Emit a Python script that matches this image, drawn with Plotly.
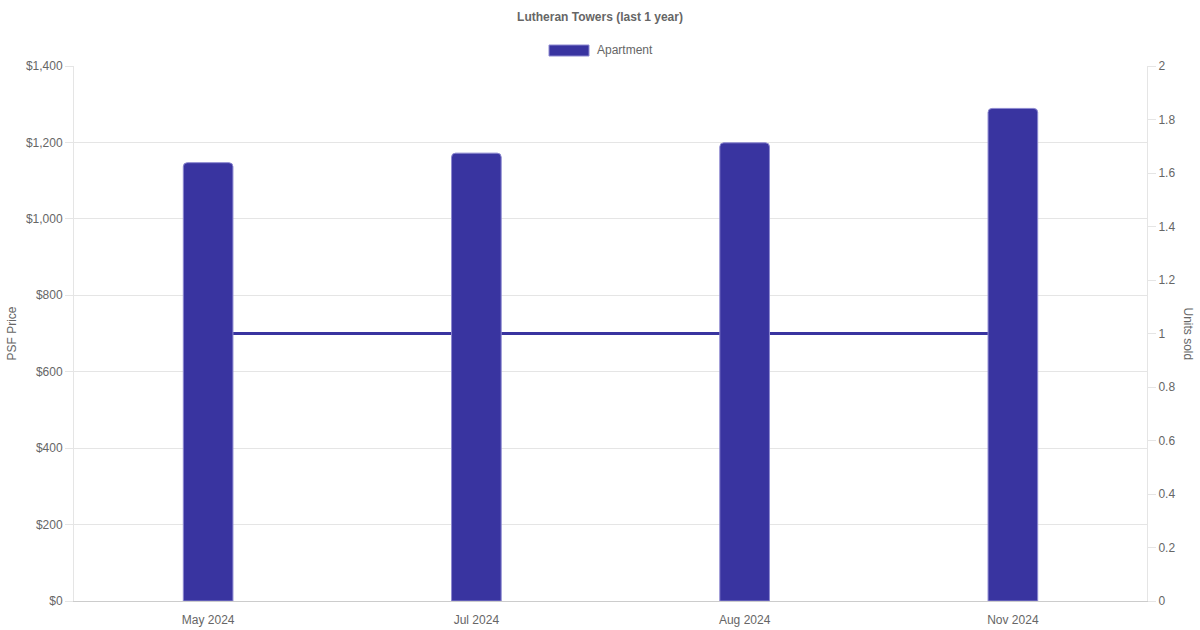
import plotly.graph_objects as go

# values
months = ["May 2024", "Jul 2024", "Aug 2024", "Nov 2024"]
psf_price = [1147, 1172, 1199, 1289]
units_sold = [1, 1, 1, 1]

bar_color = "#3934a0"
grey = "#666666"
grid = "#e5e5e5"
font_family = "Liberation Sans, Arial, sans-serif"

fig = go.Figure()

# line first on primary axis (right) so bars on y2 draw over it
fig.add_trace(go.Scatter(x=months, y=units_sold, mode="lines", name="Units sold",
                         line=dict(color=bar_color, width=3), yaxis="y", showlegend=False))

fig.add_trace(go.Bar(x=months, y=psf_price, name="Apartment", yaxis="y2",
                     marker=dict(color=bar_color, line=dict(color="#8c88d0", width=1)),
                     width=0.185, showlegend=False))

fig.update_layout(
    width=1200, height=630,
    paper_bgcolor="white", plot_bgcolor="white",
    margin=dict(l=74, r=53, t=66, b=29),
    font=dict(family=font_family, size=12, color=grey),
    title=dict(text="<b>Lutheran Towers (last 1 year)</b>", x=0.5, xanchor="center",
               y=1 - 17 / 630, yanchor="middle", font=dict(size=12, color=grey)),
    barcornerradius=4,
    xaxis=dict(showgrid=False, showline=True, linecolor="#cccccc", ticks="outside",
               ticklen=8, tickcolor="rgba(0,0,0,0)", automargin=False,
               tickfont=dict(size=12, color=grey)),
    yaxis=dict(side="right", range=[0, 2], dtick=0.2, showgrid=False, zeroline=False,
               showline=True, linecolor=grid, ticks="outside", ticklen=8, tickcolor=grid,
               automargin=False, tickfont=dict(size=12, color=grey)),
    yaxis2=dict(side="left", overlaying="y", range=[0, 1400], dtick=200,
                tickprefix="$", tickformat=",d", showgrid=True, gridcolor=grid,
                zeroline=False, showline=True, linecolor=grid, ticks="outside",
                ticklen=8, tickcolor=grid, automargin=False,
                tickfont=dict(size=12, color=grey)),
    # legend drawn by hand: wide swatch like the original
    shapes=[dict(type="rect", xref="paper", yref="paper",
                 x0=(549 - 74) / 1073, x1=(589 - 74) / 1073,
                 y0=(601 - 56) / 535, y1=(601 - 45) / 535,
                 fillcolor=bar_color, line=dict(color="#8c88d0", width=1))],
    annotations=[
        dict(text="Apartment", xref="paper", yref="paper", x=(595 - 74) / 1073,
             y=(601 - 50) / 535, xanchor="left", yanchor="middle", showarrow=False,
             font=dict(size=12, color=grey)),
        dict(text="PSF Price", xref="paper", yref="paper", x=(11 - 74) / 1073, y=0.5,
             textangle=-90, showarrow=False, font=dict(size=12, color=grey),
             xanchor="center", yanchor="middle"),
        dict(text="Units sold", xref="paper", yref="paper", x=(1188 - 74) / 1073, y=0.5,
             textangle=90, showarrow=False, font=dict(size=12, color=grey),
             xanchor="center", yanchor="middle"),
    ],
)

# drop the default 8px body margin so the figure sits at the page corner
fig.write_html("out.html", config={"displayModeBar": False},
               post_script="document.body.style.margin='0px';")
